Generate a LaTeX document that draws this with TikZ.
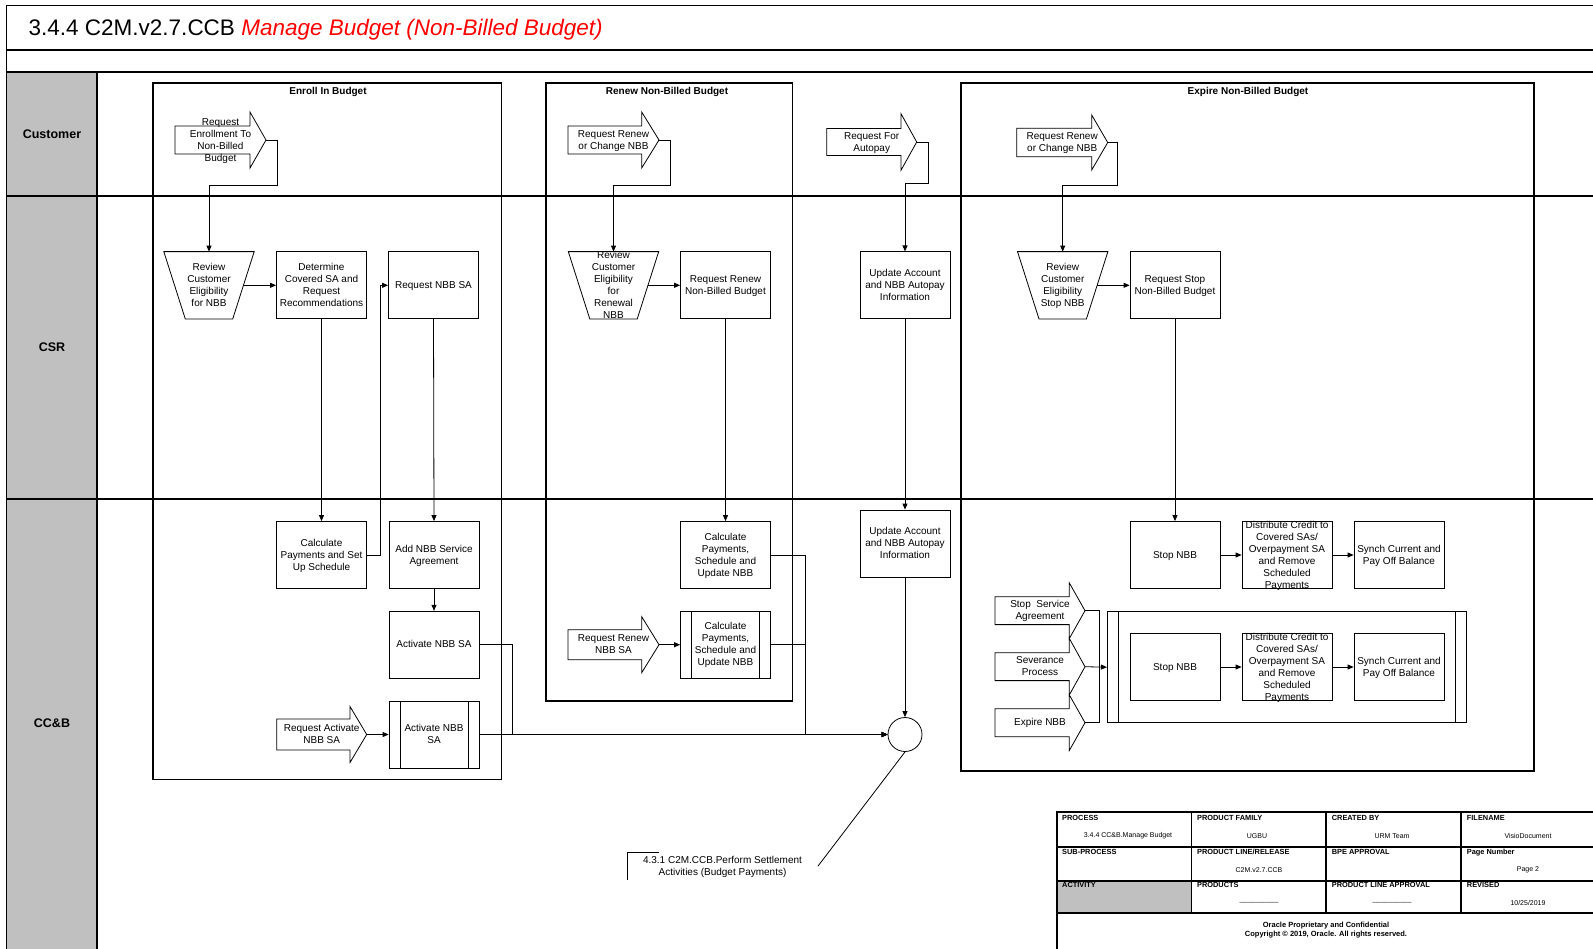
\documentclass[tikz,border=0pt]{standalone}
\usepackage{fontspec}
\setmainfont{Liberation Sans}
\usetikzlibrary{arrows.meta,calc}
\definecolor{titlered}{RGB}{255,0,0}
\definecolor{lanegray}{RGB}{192,192,192}
\newcommand\tx[1]{\smash{\raisebox{-3.3pt}{\begin{tabular}{@{}c@{}}#1\end{tabular}}}}
\newcommand\barrow[8]{%
  \draw[ashape] (#2,{#5-#6}) -- (#3,{#5-#6}) -- (#3,{#5-#7}) -- (#4,#5) -- (#3,{#5+#7}) -- (#3,{#5+#6}) -- (#2,{#5+#6}) -- cycle;
  \node[atext] (#1) at ({(#2+#4)/2},#5) {\tx{#8}};
  \coordinate (#1-tip) at (#4,#5);}
\newcommand\trapnode[4]{%
  \node[trapbox] (#1) at (#2,#3) {\tx{#4}};
  \draw[plainline] (#1.north west) -- (#1.north east) -- ([xshift=-21.5pt]#1.south east) -- ([xshift=21.5pt]#1.south west) -- cycle;}
\begin{document}
\begin{tikzpicture}[x=1pt,y=-1pt,
  proc/.style={draw, line width=0.8pt, rectangle, inner sep=0pt, minimum width=90pt, minimum height=67pt, font=\fontsize{10}{12}\selectfont},
  trapbox/.style={rectangle, inner sep=0pt, minimum width=90pt, minimum height=67pt, font=\fontsize{10}{12}\selectfont},
  subp/.style={proc, path picture={
     \draw[line width=0.8pt] ([xshift=11pt]path picture bounding box.north west) -- ([xshift=11pt]path picture bounding box.south west);
     \draw[line width=0.8pt] ([xshift=-11pt]path picture bounding box.north east) -- ([xshift=-11pt]path picture bounding box.south east);}},
  atext/.style={inner sep=0pt, font=\fontsize{10}{12}\selectfont},
  ashape/.style={draw, line width=0.8pt, fill=white},
  conn/.style={draw, line width=0.8pt, -{Triangle[length=6pt,width=5pt]}},
  plainline/.style={draw, line width=0.8pt},
  group/.style={draw, line width=1.3pt},
  frameline/.style={draw, line width=1.2pt},
  grouptitle/.style={font=\bfseries\fontsize{10}{12}\selectfont},
  lanelabel/.style={font=\bfseries\fontsize{12.5}{15}\selectfont},
  thead/.style={anchor=west, inner sep=0pt, font=\bfseries\fontsize{7.4}{8.5}\selectfont},
  tval/.style={inner sep=0pt, font=\fontsize{7}{8}\selectfont},
  tfoot/.style={inner sep=0pt, font=\bfseries\fontsize{7.5}{9}\selectfont}]
\path[use as bounding box] (0,0) rectangle (1593,948);

% ---------- frame ----------
\fill[lanegray] (6.5,72) rectangle (97,950);
\draw[frameline] (1600,5.5) -- (6.5,5.5) -- (6.5,950);
\draw[frameline] (6.5,50) -- (1600,50);
\draw[frameline] (6.5,72) -- (1600,72);
\draw[frameline] (97,72) -- (97,950);
\draw[frameline] (6.5,196) -- (1600,196);
\draw[frameline] (6.5,499) -- (1600,499);

\node[anchor=base west, inner sep=0pt, font=\fontsize{22.5}{27}\selectfont] (title) at (28.5,35.5)
  {3.4.4 C2M.v2.7.CCB {\color{titlered}\itshape Manage Budget (Non-Billed Budget)}};

\node[lanelabel] (lcust) at (52,134) {Customer};
\node[lanelabel] (lcsr) at (52,347) {CSR};
\node[lanelabel] (lccb) at (52,723) {CC\&B};

% ---------- groups ----------
\draw[group] (153,83) rectangle (501.7,779.3);
\node[grouptitle] (gE) at (328,92) {Enroll In Budget};
\draw[group] (546,83) rectangle (792.7,701);
\node[grouptitle] (gR) at (667,92) {Renew Non-Billed Budget};
\draw[group] (961,83) rectangle (1534,771);
\node[grouptitle] (gX) at (1248,92) {Expire Non-Billed Budget};

% ---------- Enroll ----------
\barrow{arrE}{175}{250}{266}{140}{14}{28}{Request\\Enrollment To\\Non-Billed\\Budget}
\trapnode{revE}{209}{285.3}{Review\\Customer\\Eligibility\\for NBB}
\node[proc] (detE) at (321.5,285.3) {\tx{Determine\\Covered SA and\\Request\\Recommendations}};
\node[proc] (reqE) at (433.5,285.3) {\tx{Request NBB SA}};
\node[proc] (calcE) at (321.5,555) {\tx{Calculate\\Payments and Set\\Up Schedule}};
\node[proc] (addE) at (434,555) {\tx{Add NBB Service\\Agreement}};
\node[proc] (actE) at (434,644.7) {\tx{Activate NBB SA}};
\node[subp] (act2E) at (434,734.5) {\tx{Activate NBB\\SA}};
\barrow{arrRA}{276.7}{350}{366.7}{734.5}{15.5}{28}{Request Activate\\NBB SA}

% ---------- Renew ----------
\barrow{arrR1}{568}{641.7}{659}{140}{14}{28}{Request Renew\\or Change NBB}
\trapnode{revR}{613.5}{285.3}{Review\\Customer\\Eligibility\\for\\Renewal\\NBB}
\node[proc] (reqR) at (725.5,285.3) {\tx{Request Renew\\Non-Billed Budget}};
\node[proc] (calcR) at (725.5,555) {\tx{Calculate\\Payments,\\Schedule and\\Update NBB}};
\node[subp] (calc2R) at (725.5,644.7) {\tx{Calculate\\Payments,\\Schedule and\\Update NBB}};
\barrow{arrRR}{568}{641.7}{659}{644.7}{15}{28}{Request Renew\\NBB SA}

% ---------- Autopay ----------
\barrow{arrA}{826.7}{901}{916.7}{142}{13.5}{28.3}{Request For\\Autopay}
\node[proc] (updA1) at (905,285.3) {\tx{Update Account\\and NBB Autopay\\Information}};
\node[proc] (updA2) at (905,543.5) {\tx{Update Account\\and NBB Autopay\\Information}};
\node[draw, circle, line width=0.8pt, minimum size=34pt, inner sep=0pt] (circ) at (905,734.5) {};

% ---------- Expire ----------
\barrow{arrX}{1016.7}{1091.7}{1107.7}{142.5}{14.2}{27.5}{Request Renew\\or Change NBB}
\trapnode{revX}{1062.7}{285.3}{Review\\Customer\\Eligibility\\Stop NBB}
\node[proc] (reqX) at (1175,285.3) {\tx{Request Stop\\Non-Billed Budget}};
\node[proc] (stopX1) at (1175,555) {\tx{Stop NBB}};
\node[proc] (distX1) at (1287,555) {\tx{Distribute Credit to\\Covered SAs/\\Overpayment SA\\and Remove\\Scheduled\\Payments}};
\node[proc] (synX1) at (1399,555) {\tx{Synch Current and\\Pay Off Balance}};
\node[subp, minimum width=358.7pt, minimum height=111pt] (subX) at (1286.7,667.2) {};
\node[proc] (stopX2) at (1175,667) {\tx{Stop NBB}};
\node[proc] (distX2) at (1287,667) {\tx{Distribute Credit to\\Covered SAs/\\Overpayment SA\\and Remove\\Scheduled\\Payments}};
\node[proc] (synX2) at (1399,667) {\tx{Synch Current and\\Pay Off Balance}};
\barrow{arrS1}{995}{1069.3}{1085}{610.7}{13.9}{27.8}{Stop~ Service\\Agreement}
\barrow{arrS2}{995}{1069.3}{1085}{666.7}{13.9}{28.3}{Severance\\Process}
\barrow{arrS3}{995}{1069.3}{1085}{722.7}{14}{27.8}{Expire NBB}

% ---------- annotation ----------
\node[inner sep=0pt, minimum width=190.4pt, minimum height=27.7pt, font=\fontsize{10}{11.5}\selectfont] (note) at (722.5,866.2)
  {\tx{4.3.1 C2M.CCB.Perform Settlement\\Activities (Budget Payments)}};
\draw[plainline] ([xshift=32pt]note.north west) -- (note.north west) -- (note.south west);
\draw[plainline] (circ.south) -- (note.east);

% ---------- connectors ----------
\draw[conn] (arrE-tip) -| ($(arrE-tip)+(11,45)$) -| (revE.north);
\draw[conn] ([xshift=-10.75pt]revE.east) -- (detE.west);
\draw[conn] (detE.south) -- (calcE.north);
\draw[conn] (calcE.east) -- ++(13,0) |- (reqE.west);
\draw[conn] (reqE.south) -- (addE.north);
\draw[conn] (addE.south) -- (actE.north);
\draw[conn] (arrRA-tip) -- (act2E.west);
\draw[conn] (actE.east) -- ++(33,0) |- (circ.west);
\draw[conn] (act2E.east) -- (circ.west);

\draw[conn] (arrR1-tip) -| ($(arrR1-tip)+(11,45)$) -| (revR.north);
\draw[conn] ([xshift=-10.75pt]revR.east) -- (reqR.west);
\draw[conn] (reqR.south) -- (calcR.north);
\draw[conn] (arrRR-tip) -- (calc2R.west);
\draw[conn] (calcR.east) -- ++(34,0) |- (circ.west);
\draw[conn] (calc2R.east) -- ++(34,0) |- (circ.west);

\draw[conn] (arrA-tip) -| ($(arrA-tip)+(11.6,41.3)$) -| (updA1.north);
\draw[conn] (updA1.south) -- (updA2.north);
\draw[conn] (updA2.south) -- (circ.north);

\draw[conn] (arrX-tip) -| ($(arrX-tip)+(10,42.5)$) -| (revX.north);
\draw[conn] ([xshift=-10.75pt]revX.east) -- (reqX.west);
\draw[conn] (reqX.south) -- (stopX1.north);
\draw[conn] (stopX1.east) -- (distX1.west);
\draw[conn] (distX1.east) -- (synX1.west);
\draw[conn] (stopX2.east) -- (distX2.west);
\draw[conn] (distX2.east) -- (synX2.west);
\draw[plainline] (arrS1-tip) -- ++(14.3,0) |- (arrS3-tip);
\draw[conn] (arrS2-tip) -- (subX.west);

% ---------- title block ----------
\fill[white] (1057,812) rectangle (1600,948);
\fill[lanegray] (1057,881) rectangle (1191.6,913);
\draw[frameline] (1600,812) -- (1057,812) -- (1057,950);
\draw[frameline] (1057,847) -- (1600,847);
\draw[frameline] (1057,881) -- (1600,881);
\draw[frameline] (1057,913) -- (1600,913);
\draw[frameline] (1191.6,812) -- (1191.6,913);
\draw[frameline] (1326,812) -- (1326,913);
\draw[frameline] (1461,812) -- (1461,913);
\node[thead] (hp) at (1062,818.3) {PROCESS};
\node[thead] (hpf) at (1196.9,818.3) {PRODUCT FAMILY};
\node[thead] (hcb) at (1331.6,818.3) {CREATED BY};
\node[thead] (hfn) at (1466.7,818.3) {FILENAME};
\node[thead] (hsp) at (1062,852.3) {SUB-PROCESS};
\node[thead] (hpl) at (1196.9,852.3) {PRODUCT LINE/RELEASE};
\node[thead] (hbpe) at (1331.6,852.3) {BPE APPROVAL};
\node[thead] (hpn) at (1466.7,852.3) {Page Number};
\node[thead] (hact) at (1062,885) {ACTIVITY};
\node[thead] (hprod) at (1196.9,885) {PRODUCTS};
\node[thead] (hpla) at (1331.6,885) {PRODUCT LINE APPROVAL};
\node[thead] (hrev) at (1466.7,885) {REVISED};
\node[tval] (vp) at (1128,836) {3.4.4 CC\&B.Manage Budget};
\node[tval] (vpf) at (1257,836) {UGBU};
\node[tval] (vcb) at (1392,836) {URM Team};
\node[tval] (vfn) at (1528,836) {VisioDocument};
\node[tval] (vpl) at (1259,870) {C2M.v2.7.CCB};
\node[tval] (vpn) at (1528,870) {Page 2};
\node[tval] (vprod) at (1259,902) {\_\_\_\_\_\_\_\_\_\_};
\node[tval] (vpla) at (1392,902) {\_\_\_\_\_\_\_\_\_\_};
\node[tval] (vrev) at (1528,903.3) {10/25/2019};
\node[tfoot] (f1) at (1326,925.5) {Oracle Proprietary and Confidential};
\node[tfoot] (f2) at (1326,935) {Copyright \textcopyright{} 2019, Oracle. All rights reserved.};
\end{tikzpicture}
\end{document}
